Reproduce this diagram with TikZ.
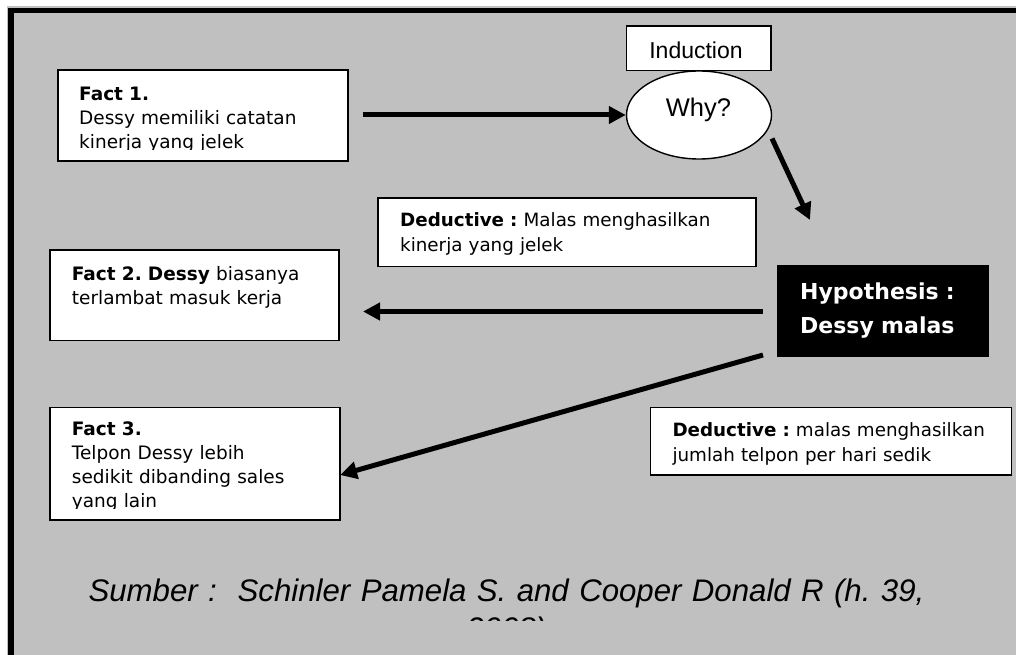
\documentclass[tikz,border=0pt]{standalone}
\usepackage{fontspec}
\newfontfamily\dvs{DejaVu Sans}
\newfontfamily\ars{Liberation Sans}
\usetikzlibrary{arrows.meta,shapes.geometric}
\definecolor{bggray}{RGB}{192,192,192}
\frenchspacing
\begin{document}
\begin{tikzpicture}[x=1pt,y=-1pt,
  boxnode/.style={draw=black,line width=1.4pt,fill=white,inner sep=0pt,outer sep=0pt,anchor=north west},
  bodytxt/.style={anchor=north west,inner sep=0pt,text width=#1,align=left,font=\dvs\fontsize{18.5}{24}\selectfont},
  dedtxt/.style={anchor=north west,inner sep=0pt,text width=#1,align=left,font=\dvs\fontsize{18.3}{25}\selectfont},
  arr/.style={line width=5pt,-{Triangle[length=17pt,width=17pt]}},
]
% background and frame
\fill[white] (0,0) rectangle (1016,655);
\useasboundingbox (0,0) rectangle (1016,655);
\fill[bggray] (6.5,6.5) rectangle (1016,655);
\draw[line width=5.5pt,line join=miter] (11,655) -- (11,10.75) -- (1016,10.75);

% Fact 1
\node[boxnode,minimum width=290pt,minimum height=91pt] (f1) at (58,70) {};
\begin{scope}
\clip (58,70) rectangle (348,149.5);
\node[bodytxt=265pt] (f1t) at (79,85) {\rule{0pt}{15pt}\textbf{Fact 1.}\\Dessy memiliki catatan\\kinerja yang jelek};
\end{scope}

% Induction and Why?
\node[boxnode,minimum width=144.3pt,minimum height=44.7pt] (ind) at (626.7,26) {};
\node[anchor=base,inner sep=0pt,font=\ars\fontsize{23}{27}\selectfont] (indt) at (696,59) {Induction};
\node[ellipse,draw=black,line width=1.4pt,fill=white,inner sep=0pt,minimum width=145pt,minimum height=88pt] (why) at (699,115) {};
\node[anchor=base,inner sep=0pt,font=\ars\fontsize{25.5}{30}\selectfont] (whyt) at (698.5,116.7) {Why?};

% Deductive 1
\node[boxnode,minimum width=378pt,minimum height=68.7pt] (d1) at (378,198) {};
\begin{scope}
\clip (378,198) rectangle (756,257);
\node[dedtxt=350pt] (d1t) at (400,211.7) {\rule{0pt}{15pt}\textbf{Deductive :} Malas menghasilkan\\kinerja yang jelek};
\end{scope}

% Fact 2
\node[boxnode,minimum width=289pt,minimum height=90.7pt] (f2) at (50,250) {};
\node[bodytxt=265pt] (f2t) at (71.7,265) {\rule{0pt}{15pt}\textbf{Fact 2. Dessy} biasanya\\terlambat masuk kerja};

% Hypothesis
\node[boxnode,fill=black,minimum width=210.6pt,minimum height=91pt] (hyp) at (777.7,265.7) {};
\node[anchor=north west,inner sep=0pt,text width=190pt,align=left,text=white,font=\dvs\bfseries\fontsize{22}{34.3}\selectfont] (hypt) at (800,281) {\rule{0pt}{18pt}Hypothesis :\\Dessy malas};

% Fact 3
\node[boxnode,minimum width=290pt,minimum height=112.7pt] (f3) at (50,407.3) {};
\begin{scope}
\clip (50,407.3) rectangle (340,508.5);
\node[bodytxt=265pt] (f3t) at (71.7,420) {\rule{0pt}{15pt}\textbf{Fact 3.}\\Telpon Dessy lebih\\sedikit dibanding sales\\yang lain};
\end{scope}

% Deductive 2
\node[boxnode,minimum width=361pt,minimum height=67.7pt] (d2) at (650.7,407.3) {};
\node[dedtxt=335pt] (d2t) at (672.3,421.7) {\rule{0pt}{15pt}\textbf{Deductive :} malas menghasilkan\\jumlah telpon per hari sedik};

% connectors
\coordinate (a1s) at (363,115);
\draw[arr] (a1s) -- (why.west);
\coordinate (a2s) at (772,138.5);
\coordinate (a2e) at (810,220);
\draw[arr] (a2s) -- (a2e);
\coordinate (a3s) at (763,311.5);
\coordinate (a3e) at (363,311.5);
\draw[arr] (a3s) -- (a3e);
\coordinate (a4s) at (763,355);
\coordinate (a4e) at (340,475);
\draw[arr] (a4s) -- (a4e);

% source
\begin{scope}
\clip (14,560) rectangle (1016,620);
\node[anchor=north,inner sep=0pt,align=center,text width=1000pt,font=\ars\itshape\fontsize{31.2}{37.7}\selectfont] (src) at (506.5,577.2) {\rule{0pt}{24.5pt}Sumber :~ Schinler Pamela S. and Cooper Donald R (h. 39,\\2008)};
\end{scope}
\end{tikzpicture}
\end{document}
